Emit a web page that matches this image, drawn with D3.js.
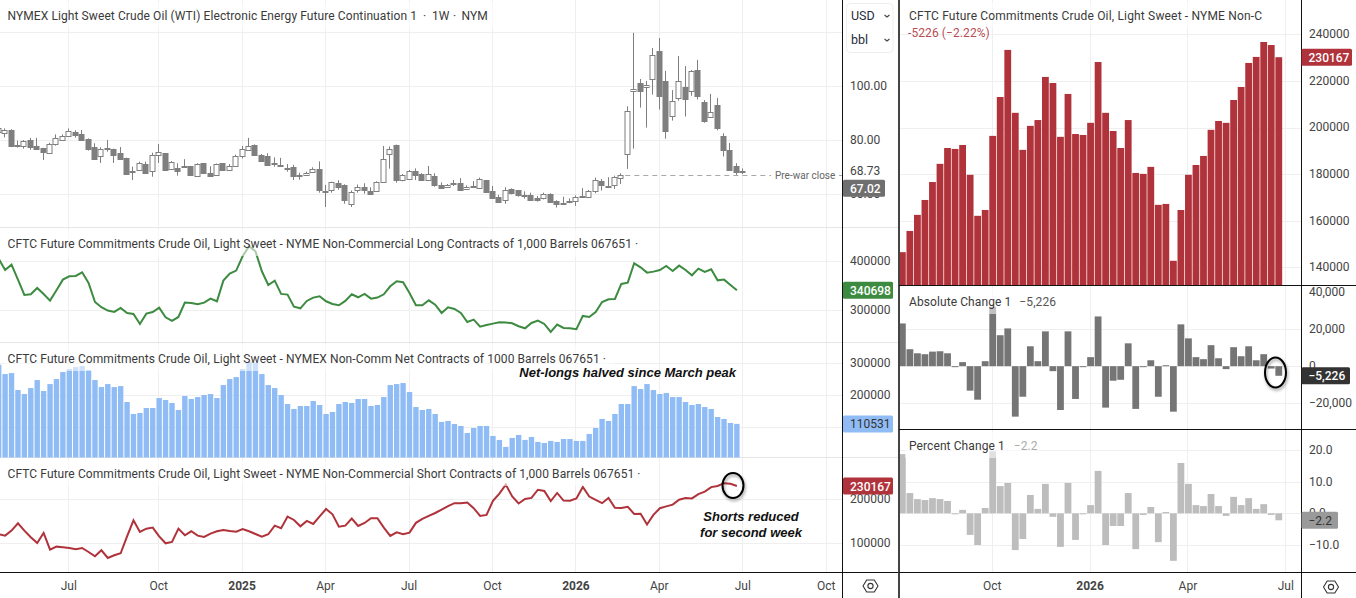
<!DOCTYPE html>
<html>
<head>
<meta charset="utf-8">
<title>WTI crude and CFTC positioning</title>
<script src="https://cdn.jsdelivr.net/npm/d3@7/dist/d3.min.js"></script>
<style>
  html, body { margin: 0; padding: 0; background: #fff; overflow: hidden; }
  svg { display: block; font-family: Roboto, Arial, sans-serif; }
  .axis text { font-size: 12px; fill: #444; font-family: Roboto, Arial, sans-serif; }
  .axis path, .axis line { display: none; }
  .title { font-size: 12px; fill: #3a3a3a; letter-spacing: 0.09px; }
  .note { font: italic bold 13px "Liberation Sans", Arial, sans-serif; fill: #111; }
</style>
</head>
<body>
<svg id="chart" width="1356" height="598"></svg>
<script>
// Weekly front-month WTI candles, oldest first (USD/bbl)
const opens = [82.8,82.8,83.8,78.3,78.0,80.1,77.9,77.0,75.1,78.4,80.2,81.5,83.1,82.3,80.5,77.5,74.0,77.2,76.8,75.3,73.5,68.5,69.1,71.2,68.4,74.4,75.2,69.3,69.8,70.4,70.4,66.7,71.5,67.9,67.0,71.5,69.0,70.4,74.0,76.5,78.4,74.6,74.2,71.5,71.0,69.6,70.1,67.0,67.4,68.1,69.4,61.4,61.4,64.1,63.5,56.5,61.4,62.6,61.4,61.0,64.6,74.7,78.3,65.1,65.4,68.6,67.5,65.1,66.8,63.3,62.7,64.3,64.2,61.9,63.1,62.3,65.2,61.2,58.9,57.8,61.9,61.5,59.8,59.6,58.5,58.6,60.1,57.5,56.9,57.7,57.3,59.3,58.8,61.0,64.8,63.1,63.2,65.9,74.8,98.1,101.2,99.6,102.6,113.1,102.0,88.9,95.6,99.8,98.1,106.0,94.2,88.5,93.1,81.6,76.4,70.5,68.5];
const highs = [86.0,84.4,84.1,79.9,80.1,80.9,80.9,77.2,79.1,82.2,82.2,84.4,83.7,83.8,80.7,78.9,77.4,80.1,76.9,77.5,73.6,70.2,72.1,72.1,75.4,78.6,75.3,72.3,71.5,73.0,70.5,71.5,71.6,70.4,71.4,71.6,71.2,74.7,77.9,80.9,78.5,74.9,75.2,73.7,73.5,71.2,70.9,68.0,68.4,70.0,72.2,63.5,64.7,65.2,63.7,61.4,63.6,64.1,62.6,64.8,77.9,77.7,78.4,67.5,69.0,69.6,67.8,70.5,67.8,64.4,63.8,65.3,66.0,63.3,64.9,66.2,65.3,63.1,59.8,62.6,62.2,61.6,61.1,60.6,59.4,60.6,60.4,57.8,59.1,58.5,59.6,62.3,61.6,66.2,65.7,66.3,66.9,67.8,92.6,119.8,102.7,102.0,114.2,117.9,105.7,98.6,111.2,107.5,106.0,109.8,94.9,97.2,95.7,82.6,79.0,71.5,69.6];
const lows = [82.6,81.1,78.0,77.3,76.9,76.5,76.5,72.7,75.1,78.0,80.2,81.4,81.0,79.9,76.2,73.2,71.6,75.8,71.6,73.1,67.3,65.3,68.9,67.5,66.5,71.6,68.9,69.1,66.9,69.9,66.9,66.5,67.7,66.9,66.9,68.8,68.9,70.2,73.3,76.4,74.3,72.1,70.6,70.2,70.4,68.4,65.3,65.4,66.8,68.0,60.6,55.3,60.6,61.7,56.5,55.3,60.6,60.2,59.9,60.9,64.3,69.5,64.3,64.8,65.3,65.3,64.9,64.9,62.8,62.1,62.6,63.1,61.6,61.7,62.6,62.1,60.5,58.4,56.9,56.5,60.0,59.1,58.4,57.7,57.3,58.1,57.2,55.1,56.4,56.7,55.7,58.8,58.6,60.4,61.4,62.3,62.0,63.8,69.4,76.9,92.1,84.7,96.9,91.4,80.6,87.3,94.7,88.8,96.5,95.1,86.5,88.4,83.7,74.0,68.8,67.2,67.5];
const closes = [84.4,83.8,78.0,78.0,79.9,77.5,76.9,75.4,78.5,80.7,81.5,83.3,82.1,79.9,76.9,73.2,76.7,76.9,74.7,73.2,67.5,68.3,71.7,67.9,74.4,75.6,69.0,71.9,68.8,70.1,66.9,71.1,67.8,66.9,71.1,69.0,70.6,74.2,76.7,77.8,74.6,72.3,70.9,71.2,70.7,69.4,66.9,67.3,68.0,69.3,61.6,61.1,64.4,62.6,57.9,61.0,62.6,61.4,60.4,64.4,73.0,76.7,65.3,67.0,68.5,67.3,65.1,67.4,63.5,62.2,63.6,64.1,61.6,62.6,62.8,65.6,60.6,58.6,57.2,61.5,60.5,59.5,59.5,57.9,57.8,60.0,57.3,56.5,56.7,57.4,58.9,58.8,61.1,65.2,63.2,62.8,66.3,67.02,90.7,98.9,98.4,100.4,111.5,96.5,83.6,94.4,101.9,95.4,105.6,96.5,87.3,90.4,84.7,76.5,69.0,68.4,68.73];
const lastClose = 68.73;
const preWarClose = 67.02;

// Non-commercial positions, thousands of contracts, same weeks as the candles
const longContracts = [405.4,382.3,393.2,362.6,331.3,332.7,345.6,333.4,319.8,340.8,362.6,369.4,370.1,377.6,355.8,317.0,306.2,299.4,296.6,304.8,294.6,292.6,272.2,293.2,296.6,305.5,285.8,278.3,286.4,315.7,315.0,312.3,315.7,323.8,318.4,360.6,374.8,381.0,410.2,430.6,420.4,379.6,351.7,360.6,333.4,332.0,307.5,304.1,319.1,325.9,328.6,318.4,313.0,310.2,319.1,332.7,326.6,333.4,323.8,325.9,332.7,349.0,359.2,357.2,335.4,310.2,310.2,320.4,311.6,294.6,306.2,302.8,294.6,276.2,281.0,266.7,270.1,272.8,275.6,274.9,273.5,267.4,263.3,274.2,279.0,272.2,255.8,270.8,264.0,263.3,261.3,288.5,286.4,296.6,317.0,322.5,323.2,353.8,356.5,395.9,387.8,376.9,378.9,382.3,390.5,380.3,391.2,382.3,371.4,385.0,378.2,383.7,361.2,362.6,351.7,340.698];
const netContracts = [293.6,264.8,267.9,215.4,203.0,221.5,246.3,212.3,233.9,249.4,271.0,280.3,286.4,289.5,277.2,246.3,224.6,233.9,224.6,227.7,178.3,141.2,144.3,159.7,159.7,190.6,184.5,175.2,153.6,196.8,187.6,193.7,199.9,203.0,190.6,230.8,249.4,255.5,280.3,301.9,299.8,264.8,230.8,221.5,199.9,172.1,156.7,165.9,165.9,181.4,169.0,141.2,147.4,172.1,178.3,175.2,187.6,187.6,165.9,169.0,193.7,230.8,233.9,237.0,209.2,162.8,153.6,156.7,141.2,116.5,119.6,110.3,104.1,82.5,97.9,104.1,104.1,73.2,60.9,39.3,67.0,76.3,60.9,70.1,54.7,51.6,57.8,54.7,63.9,63.9,57.8,57.8,79.4,97.9,125.8,119.6,141.2,172.1,172.1,227.7,218.5,233.9,215.4,203.0,206.1,193.7,193.7,178.3,169.0,172.1,162.8,156.7,131.9,125.8,113.4,110.531];
const shortContracts = [120.5,117.4,128.8,145.5,128.8,113.6,100.8,123.5,85.6,92.4,90.9,89.4,86.4,89.4,80.3,70.4,84.1,66.7,72.7,77.3,115.9,152.3,125.8,133.3,135.6,115.9,100.0,103.0,133.3,118.2,127.3,117.4,114.4,122.0,127.3,130.3,128.0,126.5,132.6,127.3,121.2,115.2,120.5,140.1,134.1,160.6,153.0,138.6,150.8,143.9,161.4,178.0,165.9,137.9,140.1,156.1,139.4,146.2,156.8,156.8,135.6,116.7,125.0,120.5,124.2,146.5,155.6,162.5,168.9,176.6,184.4,191.2,190.8,192.5,179.7,162.1,164.6,196.4,213.1,233.3,206.3,190.4,200.7,203.2,221.7,219.1,196.0,214.4,197.2,196.8,202.0,228.1,206.3,198.5,191.2,203.2,180.5,180.1,183.1,166.8,167.2,142.8,164.6,179.7,183.9,187.8,199.0,202.8,202.0,211.8,217.4,227.7,230.3,236.7,235.4,230.167];

// Latest 51 weeks of shorts, shown close up in the right-hand chart
const recentShorts = shortContracts.slice(-51);
// Week-on-week change of shorts, thousands of contracts and percent
const absoluteChange = [23.2,9.2,7.0,6.5,7.9,8.1,7.0,-0.3,2.2,-13.3,-18.2,2.7,32.3,16.8,20.5,-27.4,-16.6,10.8,2.7,18.9,-2.7,-23.8,18.9,-17.8,-0.3,4.9,27.0,-22.5,-7.9,-7.4,12.4,-23.2,-0.4,3.2,-16.6,0.5,-24.7,22.7,15.1,4.9,3.8,11.4,4.3,-1.6,10.3,5.4,10.8,3.2,6.5,-1.3,-5.226];
const percentChange = [18.7,6.4,4.5,4.2,4.8,4.5,3.9,-0.2,1.1,-6.8,-10.0,1.7,19.6,8.6,9.6,-11.6,-8.1,5.8,1.4,9.3,-1.1,-10.6,9.6,-8.4,-0.2,2.6,13.4,-10.0,-4.0,-4.0,6.4,-11.3,-0.5,2.0,-9.1,0.4,-15.0,15.9,9.3,2.6,2.3,6.1,2.3,-0.8,5.2,2.6,4.8,1.4,2.9,-0.5,-2.2];

// Time axes: position of each month tick, counted in weeks from the first bar
const leftTickWeeks = [11,25,38,51,64,77,90,103,116,129];
const leftTickLabels = ["Jul","Oct","2025","Apr","Jul","Oct","2026","Apr","Jul","Oct"];
const rightTickWeeks = [12,25,38,51];
const rightTickLabels = ["Oct","2026","Apr","Jul"];

const priceTicks = [100,80,60];
const priceGrid = [120,100,80,60];
const longTicks = [400,300];
const netTicks = [300,200,100];
const shortTicks = [200,100];
const recentTicks = [240,220,200,180,160,140];
const changeTicks = [40,20,0,-20];
const percentTicks = [20,10,0,-10];

const colors = { up:"#fff", candle:"#7f7f7f", long:"#3d8b40", net:"#90bcf5", short:"#b0323a", change:"#757575", percent:"#bdbdbd", grid:"#efefef", frame:"#111" };

const svg = d3.select("#chart");
const defs = svg.append("defs");
const shadow = defs.append("filter").attr("id","ringShadow").attr("x","-40%").attr("y","-40%").attr("width","180%").attr("height","180%");
shadow.append("feDropShadow").attr("dx",1).attr("dy",2).attr("stdDeviation",1.6).attr("flood-color","#000").attr("flood-opacity",0.4);

const weekX = d3.scaleLinear().domain([11,116]).range([69.3,743.3]);
const recentX = d3.scaleLinear().domain([12,51]).range([992.7,1286.3]);

const priceY = d3.scaleLinear().domain([100,60]).range([86.3,194.3]);
const longY = d3.scaleLinear().domain([400,300]).range([261.3,310.3]);
const netY = d3.scaleLinear().domain([300,100]).range([362.7,427.3]);
const shortY = d3.scaleLinear().domain([200,100]).range([499.3,543.3]);
const recentY = d3.scaleLinear().domain([240,140]).range([34.3,267.3]);
const changeY = d3.scaleLinear().domain([40,-20]).range([292.5,403]);
const percentY = d3.scaleLinear().domain([20,-10]).range([450,545]);

function clip(id, x, y, w, h) {
  defs.append("clipPath").attr("id", id).append("rect").attr("x",x).attr("y",y).attr("width",w).attr("height",h);
}
clip("paneNet",0,343,842,114.5);
clip("panePrice",0,0,842,227);
clip("paneRecent",900,0,400,285);
clip("paneChange",900,286,400,143);
clip("paneRight3",900,430,400,142);

const snap = v => Math.round(v) + 0.5;

// Background grid
function hGrid(scale, values, x1, x2) {
  svg.append("g").selectAll("line").data(values).join("line")
    .attr("x1",x1).attr("x2",x2)
    .attr("y1",d=>snap(scale(d))).attr("y2",d=>snap(scale(d)))
    .attr("stroke",colors.grid);
}
function vGrid(scale, values) {
  svg.append("g").selectAll("line").data(values).join("line")
    .attr("x1",d=>snap(scale(d))-1).attr("x2",d=>snap(scale(d))-1)
    .attr("y1",0).attr("y2",572)
    .attr("stroke",colors.grid);
}
vGrid(weekX, leftTickWeeks);
vGrid(recentX, rightTickWeeks);
hGrid(priceY, priceGrid, 0, 843);
hGrid(longY, longTicks, 0, 843);
hGrid(netY, netTicks, 0, 843);
hGrid(shortY, shortTicks, 0, 843);
hGrid(recentY, recentTicks, 900, 1301);
hGrid(changeY, [20,0,-20], 900, 1301);
hGrid(percentY, percentTicks, 900, 1301);
svg.append("g").selectAll("line").data([227.5,342.5,457.5]).join("line")
  .attr("x1",0).attr("x2",899).attr("y1",d=>d).attr("y2",d=>d).attr("stroke","#e6e6e6");

// Candles
const weeks = d3.range(closes.length);
const candles = svg.append("g").attr("clip-path","url(#panePrice)");
candles.selectAll("line").data(weeks).join("line")
  .attr("x1",i=>snap(weekX(i))-1).attr("x2",i=>snap(weekX(i))-1)
  .attr("y1",i=>priceY(highs[i])).attr("y2",i=>priceY(lows[i]))
  .attr("stroke",colors.candle);
candles.selectAll("rect").data(weeks).join("rect")
  .attr("x",i=>snap(weekX(i))-3.5).attr("width",5)
  .attr("y",i=>snap(priceY(Math.max(opens[i],closes[i]))))
  .attr("height",i=>Math.max(1,Math.round(Math.abs(priceY(opens[i])-priceY(closes[i])))))
  .attr("fill",i=>closes[i]>=opens[i]?colors.up:colors.candle)
  .attr("stroke",colors.candle);

// Pre-war reference level
const prewarY = snap(priceY(preWarClose));
svg.append("line").attr("x1",weekX(97)+4).attr("x2",771).attr("y1",prewarY).attr("y2",prewarY)
  .attr("stroke","#a8a8a8").attr("stroke-dasharray","5,4");
svg.append("line").attr("x1",839).attr("x2",843).attr("y1",prewarY).attr("y2",prewarY).attr("stroke","#a8a8a8");
svg.append("text").attr("x",775).attr("y",prewarY+3.5).attr("font-size",10).attr("fill","#666").text("Pre-war close");

// Position lines and columns
const lineFor = scale => d3.line().x((d,i)=>weekX(i)).y(d=>scale(d));
svg.append("path").attr("d",lineFor(longY)(longContracts)).attr("fill","none").attr("stroke",colors.long).attr("stroke-width",2);
svg.append("g").attr("clip-path","url(#paneNet)").selectAll("rect").data(netContracts).join("rect")
  .attr("x",(d,i)=>weekX(i)-2.7).attr("width",5.4)
  .attr("y",d=>netY(d)).attr("height",d=>netY(0)-netY(d))
  .attr("fill",colors.net);
svg.append("path").attr("d",lineFor(shortY)(shortContracts)).attr("fill","none").attr("stroke",colors.short).attr("stroke-width",2);

// Right-hand charts
svg.append("g").attr("clip-path","url(#paneRecent)").selectAll("rect").data(recentShorts).join("rect")
  .attr("x",(d,i)=>recentX(i)-3.4).attr("width",6.8)
  .attr("y",d=>recentY(d)).attr("height",d=>recentY(125)-recentY(d))
  .attr("fill",colors.short);
function changeBars(values, scale, clipId, fill) {
  svg.append("g").attr("clip-path",`url(#${clipId})`).selectAll("rect").data(values).join("rect")
    .attr("x",(d,i)=>recentX(i)-3.4).attr("width",6.8)
    .attr("y",d=>Math.min(scale(d),scale(0)))
    .attr("height",d=>Math.max(1,Math.abs(scale(d)-scale(0))))
    .attr("fill",fill);
}
changeBars(absoluteChange, changeY, "paneChange", colors.change);
changeBars(percentChange, percentY, "paneRight3", colors.percent);

// Pane legends sit on a translucent plate that lifts the marks beneath them
function legend(x, y, w, label, sub, subColor, subGap) {
  svg.append("rect").attr("x",x-4).attr("y",y-13).attr("width",w).attr("height",26).attr("fill","#fff").attr("fill-opacity",0.55);
  const t = svg.append("text").attr("class","title").attr("x",x).attr("y",y+5).text(label);
  if (sub) t.append("tspan").attr("dx",subGap).attr("fill",subColor).text(sub);
  return t;
}
const legendX = 7.5;
const priceLegend = legend(legendX, 15, 490, "NYMEX Light Sweet Crude Oil (WTI) Electronic Energy Future Continuation 1");
[[423,"·"],[432,"1W"],[453,"·"],[461.5,"NYM"]].forEach(([x,s]) => priceLegend.append("tspan").attr("x",x).text(s));
legend(legendX, 243, 640, "CFTC Future Commitments Crude Oil, Light Sweet - NYME Non-Commercial Long Contracts of 1,000 Barrels 067651  ·");
legend(legendX, 358, 610, "CFTC Future Commitments Crude Oil, Light Sweet - NYMEX Non-Comm Net Contracts of 1000 Barrels 067651  ·");
legend(legendX, 473, 640, "CFTC Future Commitments Crude Oil, Light Sweet - NYME Non-Commercial Short Contracts of 1,000 Barrels 067651  ·");
legend(909, 15, 360, "CFTC Future Commitments Crude Oil, Light Sweet - NYME Non-C").style("letter-spacing","0.17px");
svg.append("text").attr("class","title").attr("x",908).attr("y",37).style("fill",colors.short).style("fill-opacity",0.9).text("-5226 (−2.22%)");
legend(909, 301, 155, "Absolute Change 1", "−5,226", "#555", 8);
legend(909, 445, 135, "Percent Change 1", "−2.2", "#aaa", 9);

// Callouts
svg.append("text").attr("class","note").attr("x",736).attr("y",377).attr("text-anchor","end").text("Net-longs halved since March peak");
svg.append("text").attr("class","note").attr("x",751).attr("y",521).attr("text-anchor","middle").text("Shorts reduced");
svg.append("text").attr("class","note").attr("x",751).attr("y",536.5).attr("text-anchor","middle").text("for second week");
svg.selectAll("ellipse.ring").data([
  {cx:733, cy:485.5, rx:10.5, ry:12.5},
  {cx:1275.5, cy:372.5, rx:10.5, ry:15}
]).join("ellipse").attr("class","ring")
  .attr("cx",d=>d.cx).attr("cy",d=>d.cy).attr("rx",d=>d.rx).attr("ry",d=>d.ry)
  .attr("fill","none").attr("stroke","#000").attr("stroke-width",2).attr("filter","url(#ringShadow)");

// Frame
const frame = svg.append("g").attr("stroke",colors.frame).attr("fill","none");
frame.append("line").attr("x1",842.5).attr("x2",842.5).attr("y1",0).attr("y2",598);
frame.append("line").attr("x1",0).attr("x2",899).attr("y1",572.5).attr("y2",572.5);
frame.append("line").attr("x1",899).attr("x2",899).attr("y1",0).attr("y2",598).attr("stroke","#444").attr("stroke-width",2);
frame.append("line").attr("x1",1301.5).attr("x2",1301.5).attr("y1",0).attr("y2",598);
[285.5,429.5,572.5].forEach(y => frame.append("line").attr("x1",899).attr("x2",1356).attr("y1",y).attr("y2",y));

// Value axes
function valueAxis(scale, ticks, x, format) {
  svg.append("g").attr("class","axis").attr("transform",`translate(${x},0.5)`)
    .call(d3.axisRight(scale).tickValues(ticks).tickSize(0).tickPadding(0).tickFormat(format))
    .selectAll("text").attr("dy","0.24em");
}
const wholeContracts = d => String(d * 1000);
const signedContracts = d => d3.format(",")(d * 1000).replace("-","−");
const oneDecimal = d => d.toFixed(1).replace("-","−");
valueAxis(priceY, priceTicks, 850, d => d.toFixed(2));
valueAxis(priceY, [lastClose], 850, d => d.toFixed(2));
valueAxis(longY, longTicks, 850, wholeContracts);
valueAxis(netY, netTicks, 850, wholeContracts);
valueAxis(shortY, shortTicks, 850, wholeContracts);
valueAxis(recentY, recentTicks, 1309, wholeContracts);
valueAxis(changeY, changeTicks, 1309, signedContracts);
valueAxis(percentY, percentTicks, 1309, oneDecimal);

// Value pills at the edge of each axis
function pill(x, cy, w, fill, textFill, label, weight) {
  svg.append("rect").attr("x",x).attr("y",cy-8.5).attr("width",w).attr("height",17).attr("rx",1.5).attr("fill",fill);
  svg.append("text").attr("x",x+7).attr("y",cy+4.5).attr("font-size",12).attr("font-weight",weight).attr("fill",textFill).text(label);
}
pill(843, priceY(preWarClose)+13, 42, "#6f6f6f", "#fff", preWarClose.toFixed(2), 500);
pill(843, longY(longContracts[115]), 50, colors.long, "#fff", wholeContracts(longContracts[115]), 500);
pill(843, netY(netContracts[115]), 50, colors.net, "#333", wholeContracts(netContracts[115]), 400);
pill(843, shortY(shortContracts[115]), 50, colors.short, "#fff", wholeContracts(shortContracts[115]), 500);
pill(1301.5, recentY(recentShorts[50]), 50.5, colors.short, "#fff", wholeContracts(recentShorts[50]), 500);
pill(1301.5, changeY(absoluteChange[50]), 48.5, "#333", "#fff", signedContracts(absoluteChange[50]), 500);
pill(1301.5, percentY(percentChange[50]), 36.5, "#9a9a9a", "#333", oneDecimal(percentChange[50]), 400);

// Time axes
const timeAxisY = 581;
function timeAxis(scale, ticks, labels) {
  const g = svg.append("g").attr("class","axis").attr("transform",`translate(-1,${timeAxisY})`)
    .call(d3.axisBottom(scale).tickValues(ticks).tickSize(0).tickPadding(0).tickFormat((d,i)=>labels[i]));
  g.selectAll("text").attr("dy",".71em")
    .style("font-weight",(d,i)=>/^\d/.test(labels[i])?700:400);
}
timeAxis(weekX, leftTickWeeks, leftTickLabels);
timeAxis(recentX, rightTickWeeks, rightTickLabels);

// Settings buttons in the axis corners
[[870.5,586],[1331,587]].forEach(([cx,cy]) => {
  const g = svg.append("g").attr("transform",`translate(${cx},${cy})`).attr("fill","none").attr("stroke","#333").attr("stroke-width",1.1);
  g.append("path").attr("d","M-7.5,0 L-3.8,-6 L3.8,-6 L7.5,0 L3.8,6 L-3.8,6 Z").attr("stroke-linejoin","round");
  g.append("circle").attr("r",2.6);
});

// Currency and unit selectors
svg.append("rect").attr("x",846.5).attr("y",3.5).attr("width",46.5).attr("height",49).attr("rx",4).attr("fill","#fff").attr("stroke","#eee");
[["USD",20],["bbl",44]].forEach(([label,y]) => {
  svg.append("text").attr("x",851).attr("y",y).attr("font-size",12.5).attr("fill","#1f2d3d").text(label);
  svg.append("path").attr("d",`M884.5,${y-5} L887,${y-3} L889.5,${y-5}`).attr("fill","none").attr("stroke","#444").attr("stroke-width",1.1);
});
</script>
</body>
</html>
